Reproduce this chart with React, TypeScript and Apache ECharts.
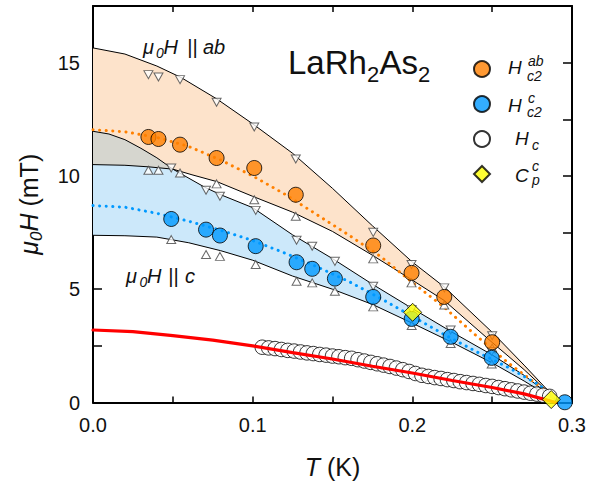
import React, { useEffect, useRef } from 'react';
import * as echarts from 'echarts';

const FONT = '"Liberation Sans", Arial, Helvetica, sans-serif';

// Tick labels
const X_LABELS = ['0.0', '0.1', '0.2', '0.3'];
const Y_LABELS = ['0', '5', '10', '15'];

// H_c2^ab (orange circles) and band markers
const AB_T = [0.0347, 0.041, 0.0545, 0.0774, 0.101, 0.127, 0.1755, 0.1995, 0.22, 0.25];
const AB_H = [11.72, 11.63, 11.38, 10.79, 10.35, 9.17, 6.93, 5.72, 4.66, 2.66];
const AB_UP_MARK = [14.47, 14.37, 14.25, 13.25, 12.16, 10.75, 7.51, 6.09, 5.06, 2.95];
const AB_LOW_MARK = [10.25, 10.25, 10.13, 9.65, 8.95, 8.22, 6.34, 5.28, 4.3, 2.4];

// H_c2^c (blue circles) and band markers
const C_T = [0.049, 0.0708, 0.0795, 0.1019, 0.1275, 0.1373, 0.1515, 0.1755, 0.1996, 0.224, 0.2497, 0.2955];
const C_H = [8.1, 7.63, 7.37, 6.9, 6.19, 5.9, 5.47, 4.66, 3.69, 2.9, 1.97, 0.01];
const C_UP_MARK = [10.35, 9.37, 9.1, 8.48, 7.16, 6.9, 6.23, 5.13, 4.1, 3.2, 2.25];
const C_LOW_MARK = [7.19, 6.53, 6.45, 6.09, 5.35, 5.28, 4.91, 4.22, 3.4, 2.6, 1.7];

// C_p^c (yellow diamonds)
const CP_T = [0.2002, 0.287];
const CP_H = [3.98, 0.13];

// H_c (open circles)
const HC_T = [0.106, 0.11, 0.114, 0.118, 0.122, 0.126, 0.13, 0.134, 0.138, 0.142, 0.146, 0.15, 0.154, 0.158, 0.162, 0.166, 0.17, 0.174, 0.178, 0.182, 0.186, 0.19, 0.194, 0.198, 0.202, 0.206, 0.21, 0.214, 0.218, 0.222, 0.226, 0.23, 0.234, 0.238, 0.242, 0.246, 0.25, 0.254, 0.258, 0.262, 0.266, 0.27, 0.274, 0.278, 0.282, 0.286];
const HC_H = [2.44, 2.41, 2.38, 2.34, 2.3, 2.27, 2.23, 2.19, 2.16, 2.12, 2.09, 2.05, 2.02, 1.98, 1.95, 1.89, 1.83, 1.77, 1.71, 1.65, 1.59, 1.52, 1.45, 1.37, 1.28, 1.2, 1.15, 1.1, 1.06, 1.01, 0.97, 0.92, 0.88, 0.84, 0.8, 0.75, 0.71, 0.66, 0.61, 0.56, 0.51, 0.46, 0.41, 0.37, 0.32, 0.27];

// Band boundary curves [T, H]
const AB_UPPER = [[0, 15.65], [0.02, 15.38], [0.04, 14.85], [0.055, 14.35], [0.0775, 13.4], [0.1, 12.3], [0.125, 11.0], [0.15, 9.45], [0.175, 7.8], [0.2, 6.2], [0.22, 5.1], [0.25, 3.1], [0.27, 1.65], [0.292, 0]];
const AB_LOWER = [[0, 10.5], [0.02, 10.47], [0.035, 10.4], [0.05, 10.3], [0.062, 10.05], [0.0775, 9.75], [0.1, 9.1], [0.125, 8.4], [0.15, 7.55], [0.175, 6.5], [0.2, 5.4], [0.22, 4.5], [0.25, 2.65], [0.27, 1.45], [0.292, 0]];
const C_UPPER = [[0, 11.97], [0.01, 11.85], [0.02, 11.6], [0.03, 11.22], [0.04, 10.8], [0.05, 10.3], [0.07, 9.5], [0.08, 9.17], [0.1, 8.6], [0.125, 7.4], [0.15, 6.35], [0.175, 5.22], [0.2, 4.15], [0.225, 3.1], [0.25, 2.1], [0.27, 1.2], [0.292, 0]];
const C_LOWER = [[0, 7.38], [0.02, 7.36], [0.04, 7.3], [0.06, 7.05], [0.08, 6.7], [0.1, 6.28], [0.125, 5.58], [0.15, 5.0], [0.175, 4.33], [0.2, 3.5], [0.225, 2.65], [0.25, 1.75], [0.27, 0.95], [0.292, 0]];
const GRAY_END_T = 0.05;

// Fit curves
const AB_FIT = [[0, 12.04], [0.02, 11.95], [0.04, 11.7], [0.06, 11.3], [0.08, 10.7], [0.1, 10.0], [0.12, 9.2], [0.14, 8.3], [0.16, 7.4], [0.18, 6.45], [0.2, 5.3], [0.22, 4.2], [0.24, 2.95], [0.26, 1.75], [0.28, 0.7], [0.292, 0]];
const C_FIT = [[0, 8.69], [0.02, 8.62], [0.04, 8.35], [0.06, 8.0], [0.08, 7.6], [0.1, 7.15], [0.12, 6.6], [0.14, 6.0], [0.16, 5.35], [0.18, 4.6], [0.2, 3.8], [0.22, 3.0], [0.24, 2.25], [0.26, 1.55], [0.28, 0.75], [0.292, 0]];
const HC_FIT = [[0, 3.2], [0.025, 3.13], [0.05, 2.95], [0.075, 2.75], [0.1, 2.5], [0.125, 2.2], [0.15, 1.92], [0.175, 1.6], [0.2, 1.3], [0.225, 0.97], [0.25, 0.66], [0.27, 0.38], [0.29, 0]];

const ORANGE = '#ff8000';
const BLUE = '#0099ff';

const zip = (t: number[], h: number[]) => t.map((v, i) => [v, h[i]]).filter((p) => p[1] !== undefined);

function band(upper: number[][], lower: number[][], color: string, z: number) {
  return {
    type: 'custom',
    silent: true,
    z,
    data: [[0, 0]],
    renderItem: (_p: any, api: any) => {
      const pts = upper.map((p) => api.coord(p)).concat(lower.slice().reverse().map((p) => api.coord(p)));
      return { type: 'polygon', shape: { points: pts }, style: { fill: color } };
    },
  };
}

function curve(data: number[][], color: string, width: number, type: any, z: number) {
  return {
    type: 'line',
    data,
    symbol: 'none',
    showSymbol: false,
    silent: true,
    z,
    lineStyle: { color, width, type, cap: 'round' },
  };
}

function tri(data: number[][], down: boolean) {
  return {
    type: 'scatter',
    data,
    symbol: 'triangle',
    symbolSize: [9, 8],
    symbolRotate: down ? 180 : 0,
    silent: true,
    z: 4,
    itemStyle: { color: '#fff', borderColor: '#444', borderWidth: 1 },
  };
}

function txt(text: string, x: number, y: number, size: number, italic = true) {
  return {
    type: 'text',
    x,
    y,
    silent: true,
    z: 100,
    style: {
      text,
      fontSize: size,
      fontFamily: FONT,
      fontStyle: italic ? 'italic' : 'normal',
      fill: '#111',
      align: 'left',
      verticalAlign: 'middle',
    },
  };
}

const axisLine = { onZero: false, lineStyle: { color: '#000', width: 2 } };

export default function App() {
  const ref = useRef<HTMLDivElement>(null);
  useEffect(() => {
    document.body.style.margin = '0';
    const chart = echarts.init(ref.current!, null, { renderer: 'svg' });
    const option: any = {
      animation: false,
      backgroundColor: '#fff',
      grid: { left: 93, right: 17, top: 6, bottom: 81, containLabel: false },
      xAxis: [
        {
          type: 'value', min: 0, max: 0.3, interval: 0.05, position: 'bottom',
          axisLine,
          axisTick: { inside: true, length: 6, lineStyle: { color: '#000', width: 1.5 } },
          axisLabel: {
            margin: 12, fontSize: 20, fontFamily: FONT, color: '#111',
            formatter: (v: number) => { const k = Math.round(v / 0.05); return k % 2 === 0 ? X_LABELS[k / 2] ?? '' : ''; },
          },
          splitLine: { show: false },
          name: '{i|T}{n| (K)}', nameLocation: 'middle', nameGap: 49,
          nameTextStyle: {
            fontFamily: FONT, fontSize: 25, color: '#111',
            rich: {
              i: { fontFamily: FONT, fontSize: 25, fontStyle: 'italic', lineHeight: 30, color: '#111' },
              n: { fontFamily: FONT, fontSize: 25, lineHeight: 30, color: '#111' },
            },
          },
        },
        {
          type: 'value', min: 0, max: 0.3, interval: 0.05, position: 'top',
          axisLine,
          axisTick: { inside: true, length: 6, lineStyle: { color: '#000', width: 1.5 } },
          axisLabel: { show: false }, splitLine: { show: false },
        },
      ],
      yAxis: [
        {
          type: 'value', min: 0, max: 17.5, interval: 2.5, position: 'left',
          axisLine,
          axisTick: { inside: true, length: 9, lineStyle: { color: '#000', width: 1.5 } },
          axisLabel: {
            margin: 13, fontSize: 20, fontFamily: FONT, color: '#111',
            formatter: (v: number) => { const k = Math.round(v / 2.5); return k % 2 === 0 ? Y_LABELS[k / 2] ?? '' : ''; },
          },
          splitLine: { show: false },
          name: '{i|μ}{s|0}{i|H}{n| (mT)}', nameLocation: 'middle', nameGap: 48, nameRotate: 90,
          nameTextStyle: {
            fontFamily: FONT, fontSize: 25, color: '#111',
            rich: {
              i: { fontFamily: FONT, fontSize: 25, fontStyle: 'italic', lineHeight: 32, color: '#111' },
              s: { fontFamily: FONT, fontSize: 17, fontStyle: 'italic', lineHeight: 17, verticalAlign: 'top', padding: [15, 0, 0, 0], color: '#111' },
              n: { fontFamily: FONT, fontSize: 25, lineHeight: 32, color: '#111' },
            },
          },
        },
        {
          type: 'value', min: 0, max: 17.5, interval: 2.5, position: 'right',
          axisLine,
          axisTick: { inside: true, length: 9, lineStyle: { color: '#000', width: 1.5 } },
          axisLabel: { show: false }, splitLine: { show: false },
        },
      ],
      legend: {
        data: ['Hc2ab', 'Hc2c', 'Hc', 'Cpc'],
        orient: 'vertical', left: 468, top: 55,
        itemWidth: 16, itemHeight: 16, itemGap: 17,
        formatter: () => '',
        textStyle: { fontSize: 1 },
        selectedMode: false,
      },
      graphic: [
        txt('LaRh', 288, 62, 33, false),
        txt('2', 367, 74.3, 22, false),
        txt('As', 379.5, 62, 33, false),
        txt('2', 418, 74.3, 22, false),
        txt('μ', 143, 46.5, 20), txt('0', 156, 52.5, 14), txt('H', 163.5, 46.5, 20), txt('||', 187, 46.5, 20), txt('ab', 203, 46.5, 20),
        txt('μ', 126, 276, 20), txt('0', 139.5, 282, 14), txt('H', 147, 276, 20), txt('||', 168, 276, 20), txt('c', 185, 276, 20),
        txt('H', 508, 67.5, 19), txt('ab', 528, 61, 14), txt('c2', 527, 75.5, 14),
        txt('H', 508, 105, 19), txt('c', 528, 97.5, 14), txt('c2', 527, 112, 14),
        txt('H', 515, 138.5, 19), txt('c', 532, 145, 14),
        txt('C', 515, 175.5, 19), txt('c', 532, 165.5, 14), txt('p', 532, 180, 14),
      ],
      series: [
        band(AB_UPPER, AB_LOWER, '#fde3cb', 1),
        band(C_UPPER, C_LOWER, '#cce8fa', 1),
        band(C_UPPER.filter((p) => p[0] <= GRAY_END_T), AB_LOWER.filter((p) => p[0] <= GRAY_END_T), '#d6d6cf', 1),
        curve(AB_UPPER, '#000', 1, 'solid', 2),
        curve(AB_LOWER, '#000', 1, 'solid', 2),
        curve(C_UPPER, '#000', 1, 'solid', 2),
        curve(C_LOWER, '#000', 1, 'solid', 2),
        curve(AB_FIT, ORANGE, 3, [0.1, 6.5], 3),
        curve(C_FIT, BLUE, 3, [0.1, 6.5], 3),
        tri(zip(AB_T, AB_UP_MARK), true),
        tri(zip(AB_T, AB_LOW_MARK), false),
        tri(zip(C_T.slice(0, C_UP_MARK.length), C_UP_MARK), true),
        tri(zip(C_T.slice(0, C_LOW_MARK.length), C_LOW_MARK), false),
        {
          name: 'Hc', type: 'scatter', data: zip(HC_T, HC_H), symbol: 'circle', symbolSize: 14.5, z: 5,
          itemStyle: { color: '#fff', borderColor: '#000', borderWidth: 1 },
        },
        curve(HC_FIT, '#ff0000', 3.2, 'solid', 6),
        {
          name: 'Hc2ab', type: 'scatter', data: zip(AB_T, AB_H), symbol: 'circle', symbolSize: 15, z: 7,
          itemStyle: { color: ORANGE, borderColor: '#000', borderWidth: 1 },
        },
        {
          name: 'Hc2c', type: 'scatter', data: zip(C_T, C_H), symbol: 'circle', symbolSize: 15, z: 7,
          itemStyle: { color: BLUE, borderColor: '#000', borderWidth: 1 },
        },
        {
          name: 'Cpc', type: 'scatter', data: zip(CP_T, CP_H), symbol: 'diamond', symbolSize: 18, z: 8,
          itemStyle: { color: '#ffff00', borderColor: '#000', borderWidth: 1 },
        },
      ],
    };
    chart.setOption(option);
    return () => chart.dispose();
  }, []);
  return <div ref={ref} style={{ width: 589, height: 484, background: '#fff' }} />;
}
